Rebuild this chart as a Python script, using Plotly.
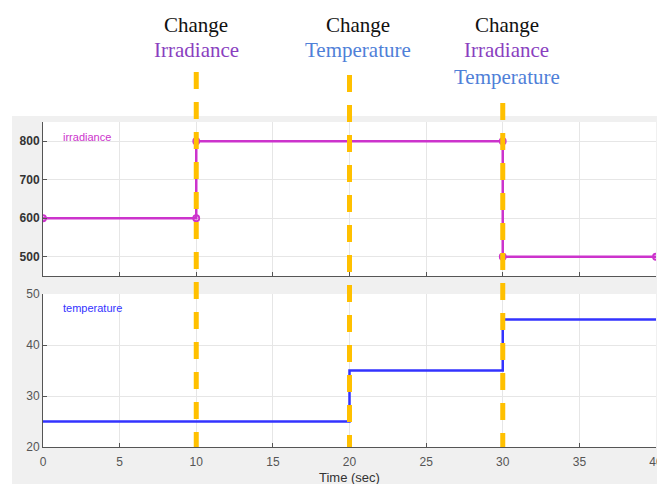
import plotly.graph_objects as go

W, H = 657, 484

# ---- data ----
irr_times = [0, 10, 30, 40]
irr_values = [600, 800, 500]
temp_times = [0, 20, 30, 40]
temp_values = [25, 35, 45]
change_times = [10, 20, 30]
change_labels = [["Irradiance"], ["Temperature"], ["Irradiance", "Temperature"]]
x_ticks = [0, 5, 10, 15, 20, 25, 30, 35, 40]
irr_ticks = [500, 600, 700, 800]
temp_ticks = [20, 30, 40, 50]


def step_xy(times, values):
    xs, ys = [], []
    for i, v in enumerate(values):
        xs += [times[i], times[i + 1]]
        ys += [v, v]
    return xs, ys


def py(px):
    return 1 - px / H


irr_x, irr_y = step_xy(irr_times, irr_values)
tmp_x, tmp_y = step_xy(temp_times, temp_values)

MAG = "#CC33CC"
BLU = "#3333FF"
ORANGE = "#FFC000"
LBL_COL = {"Irradiance": "#8A3FBF", "Temperature": "#4F80D8"}

fig = go.Figure()
fig.add_trace(go.Scatter(
    x=irr_x, y=irr_y, mode="lines+markers", xaxis="x", yaxis="y",
    line=dict(color=MAG, width=2.5),
    marker=dict(symbol="circle-open", size=6, color=MAG, line=dict(width=1.8)),
    showlegend=False, hoverinfo="skip"))
fig.add_trace(go.Scatter(
    x=tmp_x, y=tmp_y, mode="lines", xaxis="x2", yaxis="y2",
    line=dict(color=BLU, width=2.5),
    showlegend=False, hoverinfo="skip"))

x0d, x1d = 43 / W, 656 / W
top_dom = [py(276), py(122)]
bot_dom = [py(447), py(294)]

axis_common = dict(
    showline=True, linecolor="#555555", linewidth=1,
    showgrid=True, gridcolor="#E6E6E6", gridwidth=1,
    ticks="inside", ticklen=4, tickcolor="#555555",
    zeroline=False, automargin=False,
)

shapes = [
    dict(type="rect", xref="paper", yref="paper", x0=12 / W, x1=1, y0=0, y1=py(116),
         fillcolor="#F0F0F0", line=dict(width=0), layer="below"),
    dict(type="rect", xref="paper", yref="paper", x0=x0d, x1=x1d, y0=top_dom[0], y1=top_dom[1],
         fillcolor="white", line=dict(width=0), layer="below"),
    dict(type="rect", xref="paper", yref="paper", x0=x0d, x1=x1d, y0=bot_dom[0], y1=bot_dom[1],
         fillcolor="white", line=dict(width=0), layer="below"),
]
line_tops = [72, 75, 103]
for t, top in zip(change_times, line_tops):
    shapes.append(dict(type="line", xref="x2", yref="paper", x0=t, x1=t,
                       y0=py(top), y1=py(447),
                       line=dict(color=ORANGE, width=5, dash="17px,13px"), layer="above"))

annotations = []
shifts = [0, 8, 4]
for t, labels, dx in zip(change_times, change_labels, shifts):
    annotations.append(dict(x=t, xref="x2", y=py(25), yref="paper", text="Change",
                            showarrow=False, xshift=dx, yanchor="middle",
                            font=dict(family="Liberation Serif", size=21, color="#111111")))
    for k, lab in enumerate(labels):
        annotations.append(dict(x=t, xref="x2", y=py(50 + 27 * k), yref="paper", text=lab,
                                showarrow=False, xshift=dx, yanchor="middle",
                                font=dict(family="Liberation Serif", size=21, color=LBL_COL[lab])))

annotations += [
    dict(x=61 / W, y=py(137), xref="paper", yref="paper", text="irradiance", showarrow=False,
         xanchor="left", yanchor="middle", font=dict(family="Liberation Sans", size=11, color=MAG)),
    dict(x=61 / W, y=py(308), xref="paper", yref="paper", text="temperature", showarrow=False,
         xanchor="left", yanchor="middle", font=dict(family="Liberation Sans", size=11, color=BLU)),
    dict(x=20, xref="x2", y=py(477), yref="paper", text="Time (sec)", showarrow=False,
         yanchor="middle", font=dict(family="Liberation Sans", size=13, color="#333333")),
]

fig.update_layout(
    width=W, height=H, margin=dict(l=0, r=0, t=0, b=0),
    paper_bgcolor="white", plot_bgcolor="rgba(0,0,0,0)",
    xaxis=dict(domain=[x0d, x1d], anchor="y", range=[0, 40], tickvals=x_ticks,
               showticklabels=False, **axis_common),
    yaxis=dict(domain=top_dom, anchor="x", range=[450, 850], tickvals=irr_ticks,
               tickfont=dict(family="Liberation Sans", size=12, color="#333333", weight="bold"),
               **axis_common),
    xaxis2=dict(domain=[x0d, x1d], anchor="y2", range=[0, 40], tickvals=x_ticks,
                ticklabeloverflow="allow", ticklabelstandoff=4,
                tickfont=dict(family="Liberation Sans", size=12, color="#555555"),
                **axis_common),
    yaxis2=dict(domain=bot_dom, anchor="x2", range=[20, 50], tickvals=temp_ticks,
                tickfont=dict(family="Liberation Sans", size=12, color="#555555"),
                **axis_common),
    shapes=shapes,
    annotations=annotations,
)

fig.write_html("out.html")
